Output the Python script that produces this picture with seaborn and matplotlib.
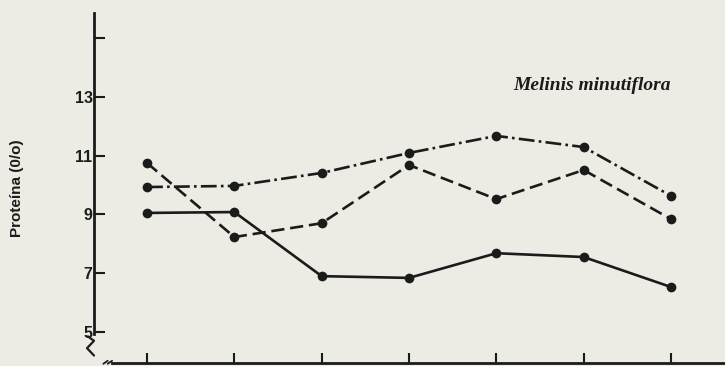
import numpy as np
import pandas as pd
import matplotlib
matplotlib.use("Agg")
import matplotlib.pyplot as plt
import seaborn as sns

# Sampling dates (positions along the x axis; labels are not printed)
periodos = [1, 2, 3, 4, 5, 6, 7]

# Crude protein content (%) for the three treatments
proteina_solida = [9.05, 9.08, 6.90, 6.84, 7.68, 7.55, 6.53]
proteina_trazos = [10.75, 8.23, 8.70, 10.68, 9.52, 10.51, 8.84]
proteina_punto_raya = [9.93, 9.97, 10.41, 11.09, 11.67, 11.29, 9.63]

y_ticks = [5, 7, 9, 11, 13, 15]
y_tick_labels = ["5", "7", "9", "11", "13", ""]

titulo = "Melinis minutiflora"
etiqueta_y = "Proteína (0/o)"

df = pd.DataFrame({
    "periodo": periodos * 3,
    "proteina": proteina_solida + proteina_trazos + proteina_punto_raya,
    "serie": ["solida"] * 7 + ["trazos"] * 7 + ["punto_raya"] * 7,
})

sns.set_theme(style="white")
plt.rcParams["font.family"] = ["Liberation Sans", "DejaVu Sans"]

papel = "#ecebe4"
tinta = "#1b1b1b"

fig = plt.figure(figsize=(7.25, 3.66), dpi=100, facecolor=papel)
ax = fig.add_axes([94 / 725, 3 / 366, 1 - 94 / 725, (363 - 13) / 366])
ax.set_facecolor(papel)

sns.lineplot(
    data=df, x="periodo", y="proteina", style="serie",
    dashes={"solida": "", "trazos": (5, 2.2), "punto_raya": (6, 1.6, 1, 1.6)},
    markers={"solida": "o", "trazos": "o", "punto_raya": "o"},
    color=tinta, linewidth=1.9, markersize=7, markeredgewidth=0,
    legend=False, ax=ax,
)

ax.set_xlim(1 - 53 / 87.3, 7 + 54 / 87.3)
ax.set_ylim(5 - 31 / 29.4, 5 + 319 / 29.4)

ax.set_yticks(y_ticks)
ax.set_yticklabels(y_tick_labels, fontsize=11.5, fontweight="bold", color=tinta)
ax.set_xticks(periodos)
ax.set_xticklabels([])
ax.tick_params(axis="y", direction="in", length=8, width=1.5, color=tinta, pad=1, left=True)
ax.tick_params(axis="x", direction="in", length=7, width=1.5, color=tinta, bottom=True)

for side in ["top", "right"]:
    ax.spines[side].set_visible(False)
ax.spines["left"].set_color(tinta)
ax.spines["left"].set_linewidth(2)
ax.spines["left"].set_bounds(4.93, 5 + 319 / 29.4)
ax.spines["bottom"].set_color(tinta)
ax.spines["bottom"].set_linewidth(2)
ax.spines["bottom"].set_bounds(0.6, 7 + 54 / 87.3)

# Axis break marks near the origin
bx = 1 - 53 / 87.3
ax.plot([bx - 0.07, bx + 0.0, bx - 0.08, bx + 0.0], [4.85, 4.7, 4.45, 4.2],
        color=tinta, lw=1.6, clip_on=False, solid_capstyle="round")
ax.plot([0.50, 0.55], [3.92, 4.02], color=tinta, lw=1.3, clip_on=False)
ax.plot([0.55, 0.60], [3.92, 4.02], color=tinta, lw=1.3, clip_on=False)

ax.set_xlabel("")
ax.set_ylabel("")
fig.text(17 / 725, 1 - 188 / 366, etiqueta_y, rotation=90, ha="center", va="center",
         fontsize=11, fontweight="bold", color=tinta)
fig.text(592 / 725, 1 - 86 / 366, titulo, ha="center", va="center",
         fontsize=14, fontweight="bold", fontstyle="italic", color=tinta,
         family=["Liberation Serif", "DejaVu Serif"])

fig.savefig("out.png", dpi=100, facecolor=papel)
